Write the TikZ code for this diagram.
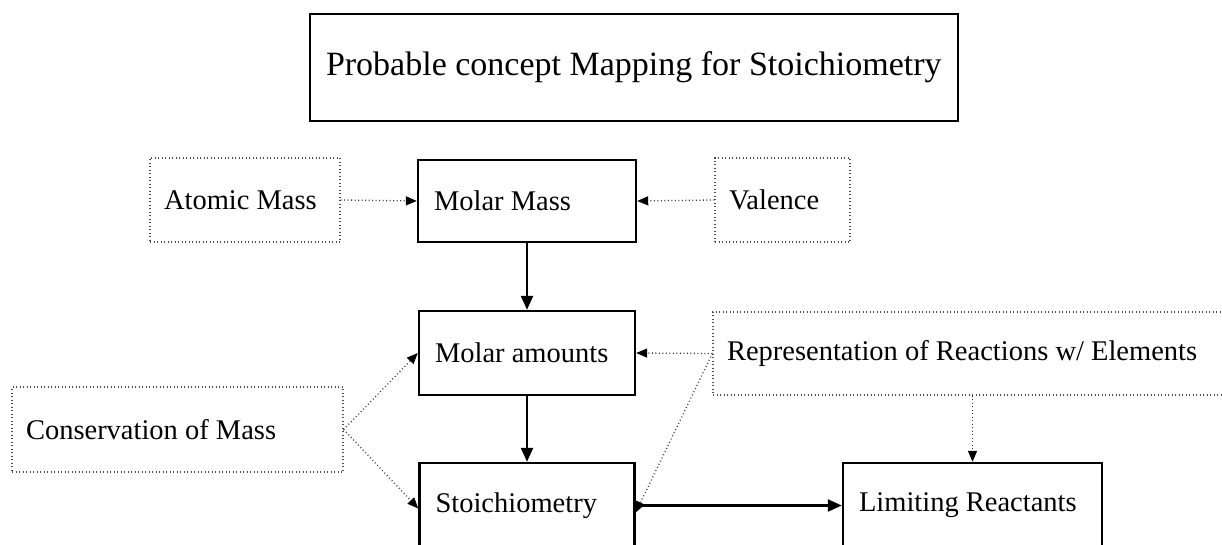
\documentclass[tikz,border=0pt]{standalone}
\usepackage{fontspec}
\setmainfont{Liberation Serif}
\usetikzlibrary{arrows.meta}
\begin{document}
\begin{tikzpicture}[x=1pt,y=-1pt,
  concept/.style={draw=black, line width=2.4pt, rectangle, inner xsep=16pt, inner ysep=0pt,
    align=flush left, font=\fontsize{28.5}{32}\selectfont},
  related/.style={draw=black!70, line width=1.3pt, dash pattern=on 0.9pt off 2.6pt, rectangle,
    inner xsep=14pt, inner ysep=0pt, align=flush left, font=\fontsize{28.5}{32}\selectfont},
  link/.style={line width=2.2pt, -{Triangle[length=14pt,width=12pt]}},
  hint/.style={draw=black!80, line width=1.3pt, dash pattern=on 0.9pt off 2.6pt,
    -{Triangle[length=11pt,width=9pt,fill=black,color=black]}},
]
\useasboundingbox (0,0) rectangle (1222,545);
\clip (0,0) rectangle (1222,545);

% title
\node[concept, minimum height=107pt, text width=616pt, inner xsep=16pt, font=\fontsize{34}{38}\selectfont]
  (title) at (634,67.5) {Probable concept Mapping for Stoichiometry};

% main chain
\node[concept, minimum height=82pt, text width=186pt] (mm) at (527,201) {Molar Mass};
\node[concept, minimum height=84pt, text width=184pt] (ma) at (527,353) {Molar amounts};
\node[concept, minimum height=85pt, text width=183pt] (st) at (527,505.5) {Stoichiometry};
\node[concept, minimum height=85pt, text width=227pt] (lr) at (972.5,505.5) {Limiting Reactants};

% supporting ideas
\node[related, minimum height=84pt, text width=162pt] (am) at (245,200) {Atomic Mass};
\node[related, minimum height=84pt, text width=107pt] (va) at (782.5,200) {Valence};
\node[related, minimum height=83pt, text width=494pt] (rep) at (974,353.5) {Representation of Reactions w/ Elements};
\node[related, minimum height=85pt, text width=303pt] (cm) at (177.5,429.5) {Conservation of Mass};

% solid links
\draw[link] (mm.south) -- (ma.north);
\draw[link] (ma.south) -- (st.north);
\draw[link] (st.east) -- (lr.west);

% dotted links
\draw[hint] (am.east) -- (mm.west);
\draw[hint] (va.west) -- (mm.east);
\draw[hint] (rep.west) -- (ma.east);
\draw[hint] (rep.west) -- ([yshift=-7pt]st.east);
\draw[hint] (lr.north |- rep.south) -- (lr.north);
\draw[hint] (cm.east) -- (ma.west);
\draw[hint] (cm.east) -- ([yshift=-3pt]st.west);
\end{tikzpicture}
\end{document}
